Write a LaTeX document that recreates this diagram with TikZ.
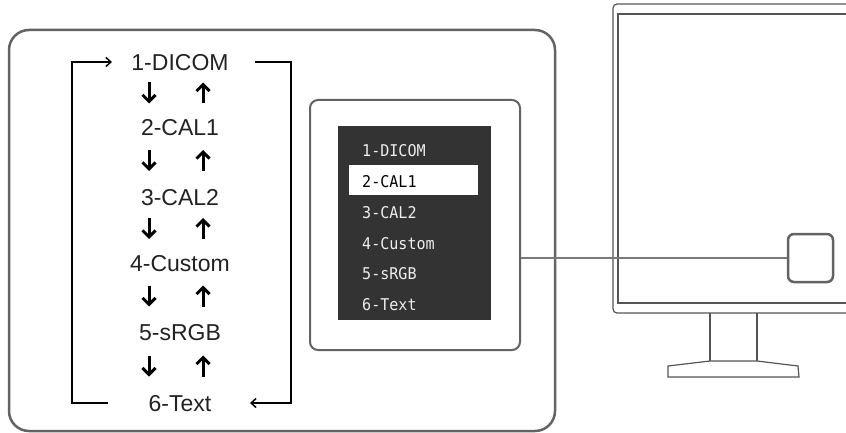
\documentclass[tikz,border=0pt]{standalone}
\usepackage{fontspec}
\setmainfont{Liberation Sans}
\newfontfamily\monofnt[FakeStretch=0.93]{DejaVu Sans Mono}
\usetikzlibrary{arrows.meta}
\definecolor{framegray}{HTML}{636363}
\definecolor{monigray}{HTML}{555555}
\definecolor{menudark}{HTML}{333333}
\definecolor{textdark}{HTML}{222222}
\definecolor{linkgray}{HTML}{7A7A7A}
\begin{document}
\begin{tikzpicture}[x=1pt,y=-1pt,
  mode/.style={font=\fontsize{23}{23}\selectfont, text=textdark, inner sep=0pt, text height=16.5pt, text depth=0pt},
  menuitem/.style={font=\monofnt\fontsize{16.2}{16.2}\selectfont, text=white!93!black, inner sep=0pt, text height=11pt, text depth=0pt, anchor=west},
  looparrow/.style={line width=1.5pt, black, -{Straight Barb[length=5pt,width=9pt]}},
  udarrow/.style={line width=3pt, black, -{Straight Barb[length=6.5pt,width=13pt]}},
  frame/.style={draw=framegray, line width=2.5pt},
  moni/.style={draw=monigray, line width=1.2pt}
]
\useasboundingbox (0,0) rectangle (846,433);
\clip (0,0) rectangle (846,433);

% main rounded box
\node[frame, rounded corners=20pt, minimum width=546pt, minimum height=401pt, inner sep=0pt] (mainbox) at (282,230.5) {};

% mode list
\node[mode] (m1) at (180,62) {1-DICOM};
\node[mode] (m2) at (180,127) {2-CAL1};
\node[mode] (m3) at (180,197) {3-CAL2};
\node[mode] (m4) at (180,263) {4-Custom};
\node[mode] (m5) at (180,332) {5-sRGB};
\node[mode] (m6) at (180,403) {6-Text};

\foreach \a/\b in {m1/m2,m2/m3,m3/m4,m4/m5,m5/m6}{
  \path (\a) -- coordinate[pos=0.5] (mid) (\b);
  \draw[udarrow] ([xshift=-31pt,yshift=12pt]mid) -- ([xshift=-31pt,yshift=-9pt]mid);
  \draw[udarrow] ([xshift=23pt,yshift=-9pt]mid) -- ([xshift=23pt,yshift=12pt]mid);
}

% loop lines
\coordinate (Lb) at (108,403);
\coordinate (Lt) at (72,62);
\coordinate (La) at (112,62);
\coordinate (Rs) at (255,62);
\coordinate (Rb) at (291,403);
\coordinate (Ra) at (250,403);
\draw[looparrow] (Lb) -| (Lt) -- (La);
\draw[looparrow] (Rs) -| (Rb) -- (Ra);

% OSD panel
\node[draw=framegray, line width=2pt, rounded corners=8pt, minimum width=210pt, minimum height=250pt, inner sep=0pt] (panel) at (415,225) {};
\fill[menudark] (338,126) rectangle (491,320);
\fill[white] (349,165) rectangle (478,195);
\node[menuitem] (o1) at (362,151) {1-DICOM};
\node[menuitem, text=black] (o2) at (362,182) {2-CAL1};
\node[menuitem] (o3) at (362,213) {3-CAL2};
\node[menuitem] (o4) at (362,244) {4-Custom};
\node[menuitem] (o5) at (362,274) {5-sRGB};
\node[menuitem] (o6) at (362,305) {6-Text};

% monitor
\draw[moni, rounded corners=4pt] (613,313) rectangle (870,4);
\draw[moni] (618,303) rectangle (870,14);
\draw[moni] (710,313) -- (710,361);
\draw[moni] (757,313) -- (757,361);
\draw[moni] (668,366) -- (710,361) -- (757,361) -- (798,366) -- (799,377) -- (668,377) -- cycle;

% button
\node[draw=framegray, line width=2.5pt, rounded corners=6pt, minimum width=45pt, minimum height=48pt, inner sep=0pt] (btn) at (810.5,258) {};

% connector
\draw[linkgray, line width=1.6pt] (btn.west -| panel.east) -- (btn.west);
\end{tikzpicture}
\end{document}
